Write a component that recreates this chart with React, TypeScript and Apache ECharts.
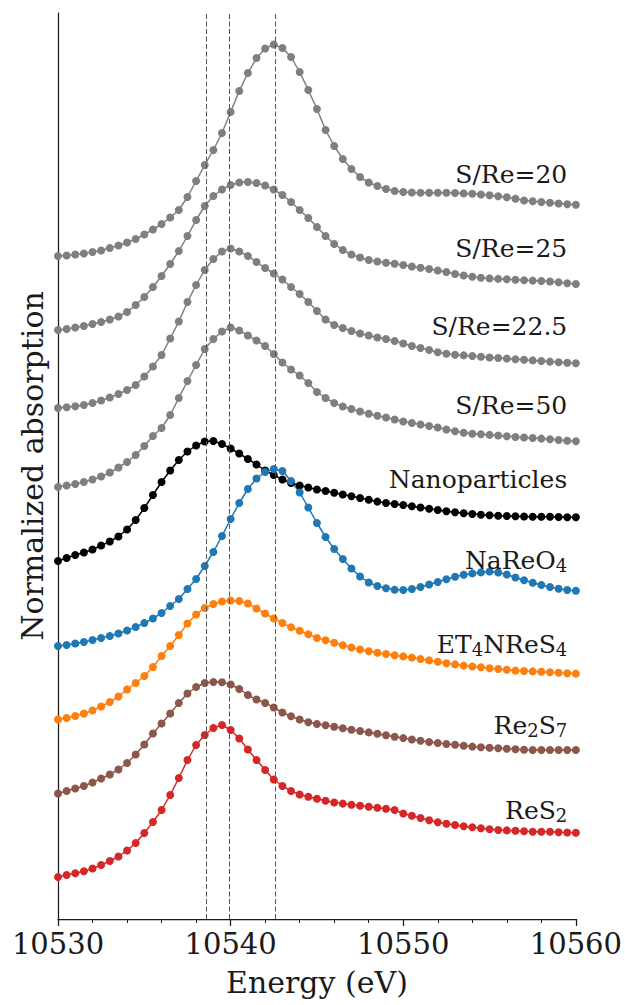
import React, { useEffect, useRef } from "react";
import * as echarts from "echarts";

// Energy grid (eV), 0.5 eV steps as in the scan
const energy: number[] = Array.from({ length: 61 }, (_, i) => 10530 + i * 0.5);

// Stacked normalized absorption (offset traces, arbitrary units)
const sre20 = [663, 663.5, 664.5, 665.5, 667, 668.5, 671, 673.5, 676.5, 680, 684.5, 689.5, 695, 701.5, 709, 722, 738, 754, 769, 786, 807, 828, 846, 861, 870.5, 874.5, 871, 862, 847, 829, 810, 789, 773, 760, 750, 742, 736.5, 733, 730, 728, 727, 726.5, 726.3, 726.3, 726.3, 726.2, 726, 725.6, 725.2, 724.5, 723.7, 722.8, 721.8, 720.2, 718.5, 717.7, 717, 716.2, 715.5, 714.8, 714.2];
const sre25 = [589, 590, 591.5, 593, 595, 597, 599.5, 602.5, 607, 614, 622, 632, 643, 655, 668, 683, 699, 713, 723, 729.5, 734, 736.5, 737, 736, 733.5, 729.5, 724, 717, 709, 701, 692, 683, 675, 669, 664.5, 661.5, 659, 657.5, 656.3, 655.2, 654, 652.5, 651.3, 650, 648.5, 647, 645, 643.5, 642.2, 641.2, 640.6, 640.1, 639.7, 639.3, 638.8, 638.4, 638, 637.5, 636.7, 635.8, 635];
const sre225 = [511, 511.7, 512.7, 514, 516, 518.5, 521.5, 525, 529, 534, 542.5, 552.5, 564, 580.5, 597.5, 617, 634, 649, 660, 667.5, 670.5, 667.5, 663, 657, 651, 645.5, 639.5, 632, 625, 617, 608, 599.5, 594, 591, 588, 585.5, 583.5, 581.5, 580, 578, 575.5, 573, 571, 569, 566.7, 565.2, 564.2, 563.6, 563, 562.2, 561.5, 561, 560.4, 559.8, 559.2, 558.6, 558, 557.4, 556.8, 556.2, 555.7];
const sre50 = [432, 433.5, 435, 437, 439.5, 442.5, 446.5, 451.5, 457, 464, 473, 483, 491, 504, 521, 538, 554, 570, 580, 587.5, 591.5, 588.5, 583.5, 578.5, 573, 565, 556.5, 549.5, 543.5, 536, 527, 521, 516, 512.5, 510, 507.5, 505.2, 503.2, 501.5, 499.5, 497.5, 496, 494.5, 493, 491.5, 489.5, 487.7, 486.2, 485.3, 484.7, 484.1, 483.5, 482.8, 482, 481.5, 481, 480.4, 479.8, 479, 478.3, 477.7];
const nano = [358, 361, 364, 366.5, 369.5, 373.5, 377.5, 382.5, 389.5, 399, 411, 424, 437, 448.5, 459, 467.5, 473.5, 477.5, 478, 475, 470.5, 465.5, 460, 454.5, 448.5, 444, 439.5, 436, 433.5, 431.5, 429.5, 428, 426.3, 424.5, 422.7, 421, 419.2, 417.4, 416, 415, 414, 412.7, 411.5, 410.2, 409, 407.8, 406.7, 405.8, 405, 404.3, 403.8, 403.3, 403, 402.7, 402.5, 402.3, 402.3, 402.2, 402, 401.8, 401.7];
const nareo4 = [273, 274, 275.5, 277, 279, 281, 283, 285.5, 288.5, 292, 296, 300.5, 306, 313, 320, 330, 340, 353, 367, 383, 400, 416, 430, 440.5, 447, 450, 448, 438, 426.5, 411.5, 396, 382, 370, 360, 350.5, 342.5, 336.5, 333, 330.8, 329.2, 329, 330, 332, 334.5, 337, 339.8, 342.2, 344.2, 345.6, 346.6, 347.5, 346.5, 344.5, 341.5, 338.7, 336.2, 334, 332, 330.3, 329, 328.2];
const et4nres4 = [199.5, 201, 203, 205.5, 208.5, 212.5, 217, 222.5, 229.5, 236, 243, 252, 263, 273, 284, 295.5, 304.5, 311, 315, 317.5, 318.5, 318, 315.5, 310.5, 305.5, 300.5, 296, 291.7, 288.3, 284.7, 281, 278.7, 276.3, 273.8, 271.5, 269.5, 267.7, 266.2, 265, 263.8, 262.6, 261.4, 260, 258.6, 257.2, 255.8, 254.6, 253.4, 252.5, 251.7, 250.8, 250, 249.2, 248.4, 248, 247.6, 247.2, 246.7, 246.2, 245.8, 245.4];
const re2s7 = [125.5, 128, 130.5, 133, 136.5, 140.5, 144.5, 149.5, 156, 164.5, 174.5, 185.5, 195.5, 205.5, 216, 225.5, 232, 236, 237, 236.7, 234.5, 230, 224, 219.5, 216, 211.5, 206.5, 202.7, 199.5, 196.7, 195, 193.7, 192.3, 190.7, 189.2, 188, 186.6, 185.2, 183.8, 182.3, 180.9, 179.5, 178.2, 177, 176, 175, 174.2, 173.2, 172.4, 171.7, 171.2, 170.7, 170.2, 169.7, 169.3, 169, 169, 169, 169, 169, 169];
const res2 = [42, 44, 45.7, 47.7, 50.5, 54, 58, 62.5, 68.5, 76, 86, 97, 109, 124, 141, 159, 174, 184, 191, 194, 189, 180.5, 169.5, 159, 149, 139.5, 133, 128, 124.5, 122.2, 120.2, 118.2, 116.5, 115.4, 114.3, 113.3, 112.3, 111.3, 110.3, 109, 105.5, 103.2, 101, 98.7, 96.8, 95.3, 94, 92.8, 91.8, 90.7, 89.8, 89, 88.6, 88.2, 87.7, 87.3, 87.3, 87.2, 86.8, 86.5, 86.3];

const seriesNames = ["S/Re=20", "S/Re=25", "S/Re=22.5", "S/Re=50", "Nanoparticles", "NaReO4", "ET4NReS4", "Re2S7", "ReS2"];
const seriesData = [sre20, sre25, sre225, sre50, nano, nareo4, et4nres4, re2s7, res2];
const seriesColors = ["#7f7f7f", "#7f7f7f", "#7f7f7f", "#7f7f7f", "#000000", "#1f77b4", "#ff7f0e", "#8c564b", "#d62728"];

// Trace labels (rich text for subscripts), anchored at right end
const labelRich = ["S/Re=20", "S/Re=25", "S/Re=22.5", "S/Re=50", "Nanoparticles", "NaReO{s|4}", "ET{s|4}NReS{s|4}", "Re{s|2}S{s|7}", "ReS{s|2}"];
const labelY = [745, 671, 593, 514, 440, 359, 275, 194, 109];
const labelX = 10559.5;

// Edge reference energies (dashed lines)
const edgeLines = [10538.6, 10539.9, 10542.6];

const FONT = "DejaVu Serif";
const INK = "#1a1a1a";

export default function App() {
  const ref = useRef<HTMLDivElement>(null);
  useEffect(() => {
    document.body.style.margin = "0";
    if (!ref.current) return;
    const chart = echarts.init(ref.current, undefined, { renderer: "svg" });
    const lineSeries = seriesNames.map((name, k) => ({
      type: "line",
      name,
      data: energy.map((e, i) => [e, seriesData[k][i]]),
      symbol: "circle",
      symbolSize: 8,
      showSymbol: true,
      showAllSymbol: true,
      clip: false,
      lineStyle: { width: 1.5, color: seriesColors[k] },
      itemStyle: { color: seriesColors[k] },
      silent: true,
      z: 3,
    }));
    const labelSeries = {
      type: "scatter",
      name: "labels",
      silent: true,
      symbolSize: 0.001,
      itemStyle: { color: INK },
      clip: false,
      z: 5,
      data: labelY.map((y, i) => ({ value: [labelX, y], label: { formatter: labelRich[i] } })),
      label: {
        show: true,
        position: "left",
        distance: 0,
        fontSize: 25,
        fontFamily: FONT,
        color: INK,
        opacity: 1,
        textBorderWidth: 0,
        lineHeight: 29,
        rich: {
          s: { fontSize: 18, fontFamily: FONT, color: INK, verticalAlign: "bottom" },
        },
      },
      markLine: {
        silent: true,
        symbol: ["none", "none"],
        label: { show: false },
        lineStyle: { type: [5, 2.5], color: "#555555", width: 1 },
        data: edgeLines.map((x) => ({ xAxis: x })),
      },
    };
    chart.setOption({
      animation: false,
      textStyle: { fontFamily: FONT },
      grid: { left: 58, right: 49, top: 13, bottom: 86, containLabel: false },
      xAxis: {
        type: "value",
        min: 10530,
        max: 10560,
        interval: 10,
        name: "Energy (eV)",
        nameLocation: "middle",
        nameGap: 48,
        nameTextStyle: { fontSize: 30, color: INK, fontFamily: FONT },
        axisLine: { show: true, onZero: false, lineStyle: { color: INK, width: 1.25 } },
        axisTick: { show: true, length: 7, lineStyle: { color: INK, width: 1.25 } },
        minorTick: { show: true, splitNumber: 5, length: 4, lineStyle: { color: INK, width: 1 } },
        axisLabel: { fontSize: 29, color: INK, margin: 10, fontFamily: FONT, formatter: (v: number) => String(v) },
        splitLine: { show: false },
      },
      yAxis: {
        type: "value",
        min: 0,
        max: 906,
        name: "Normalized absorption",
        nameLocation: "middle",
        nameGap: 11,
        nameTextStyle: { fontSize: 30, color: INK, fontFamily: FONT },
        axisLine: { show: true, onZero: false, lineStyle: { color: INK, width: 1.25 } },
        axisTick: { show: false },
        axisLabel: { show: false },
        splitLine: { show: false },
      },
      series: [...lineSeries, labelSeries],
    });
    return () => chart.dispose();
  }, []);
  return <div ref={ref} style={{ width: 625, height: 1005 }} />;
}
